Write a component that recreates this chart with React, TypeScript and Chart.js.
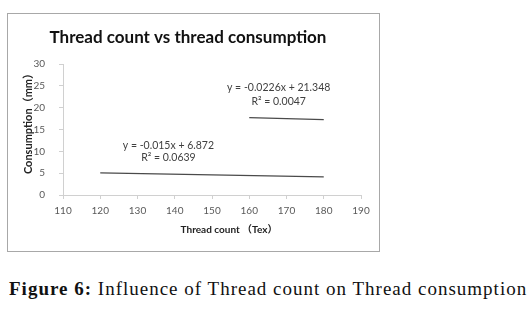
import React, { useEffect, useRef } from "react";
import { Chart, registerables } from "chart.js";

Chart.register(...registerables);

const chartTitle = "Thread count vs thread consumption";
const xAxisTitle = "Thread count （Tex）";
const yAxisTitle = "Consumption（mm）";
const figureLabel = "Figure 6:";
const figureText = " Influence of Thread count on Thread consumption";

const xMin = 110;
const xMax = 190;
const xStep = 10;
const yMin = 0;
const yMax = 30;
const yStep = 5;

// trend line 1: y = -0.015x + 6.872, over 120..180
const lowTrendX = [120, 180];
const lowTrendY = [5.072, 4.172];
// trend line 2: y = -0.0226x + 21.348, over 160..180
const highTrendX = [160, 180];
const highTrendY = [17.732, 17.28];

const lowLabelLines = ["y = -0.015x + 6.872", "R² = 0.0639"];
const lowLabelX = 138.3;
const lowLabelY = [11.4, 8.5];
const highLabelLines = ["y = -0.0226x + 21.348", "R² = 0.0047"];
const highLabelX = 167.9;
const highLabelY = [24.5, 21.5];

const SANS = "Lato, 'Noto Sans CJK SC', sans-serif";

function toPoints(xs: number[], ys: number[]) {
  return xs.map((x, i) => ({ x, y: ys[i] }));
}

const overlayPlugin = {
  id: "overlayText",
  afterDraw(chart: any) {
    const ctx = chart.ctx;
    const xs = chart.scales.x;
    const ys = chart.scales.y;
    ctx.save();
    ctx.textAlign = "center";
    ctx.textBaseline = "middle";
    // title
    ctx.fillStyle = "#111";
    ctx.font = `bold 17px ${SANS}`;
    ctx.fillText(chartTitle, 180, 24);
    // axis titles
    ctx.fillStyle = "#222";
    ctx.font = `bold 10px ${SANS}`;
    ctx.fillText(xAxisTitle, 221, 216);
    ctx.save();
    ctx.translate(20, 107);
    ctx.rotate(-Math.PI / 2);
    ctx.font = `bold 11px ${SANS}`;
    ctx.fillText(yAxisTitle, 0, 0);
    ctx.restore();
    // regression labels
    ctx.font = `10.5px ${SANS}`;
    ctx.fillStyle = "#404040";
    lowLabelLines.forEach((t, i) => {
      ctx.fillText(t, xs.getPixelForValue(lowLabelX), ys.getPixelForValue(lowLabelY[i]));
    });
    highLabelLines.forEach((t, i) => {
      ctx.fillText(t, xs.getPixelForValue(highLabelX), ys.getPixelForValue(highLabelY[i]));
    });
    ctx.restore();
  },
};

function ChartBox() {
  const ref = useRef<HTMLCanvasElement | null>(null);
  useEffect(() => {
    if (!ref.current) return;
    const chart = new Chart(ref.current, {
      type: "scatter",
      data: {
        datasets: [
          {
            data: toPoints(lowTrendX, lowTrendY),
            showLine: true,
            borderColor: "#4a4a4a",
            borderWidth: 1.2,
            pointRadius: 0,
          },
          {
            data: toPoints(highTrendX, highTrendY),
            showLine: true,
            borderColor: "#4a4a4a",
            borderWidth: 1.2,
            pointRadius: 0,
          },
        ],
      },
      options: {
        animation: false,
        responsive: false,
        maintainAspectRatio: false,
        layout: { padding: { top: 50, right: 18, bottom: 0, left: 0 } },
        plugins: {
          legend: { display: false },
          title: { display: false },
          tooltip: { enabled: false },
        },
        scales: {
          x: {
            type: "linear",
            min: xMin,
            max: xMax,
            afterFit: (s: any) => {
              s.height = 56;
            },
            ticks: {
              stepSize: xStep,
              color: "#595959",
              font: { family: SANS, size: 10 },
              padding: 6,
              maxRotation: 0,
            },
            grid: {
              drawOnChartArea: false,
              drawTicks: true,
              tickLength: 4,
              color: "#d0d0d0",
            },
            border: { display: true, color: "#d0d0d0" },
          },
          y: {
            type: "linear",
            min: yMin,
            max: yMax,
            afterFit: (s: any) => {
              s.width = 55;
            },
            ticks: {
              stepSize: yStep,
              color: "#595959",
              font: { family: SANS, size: 10 },
              padding: 14,
            },
            grid: {
              drawOnChartArea: false,
              drawTicks: true,
              tickLength: 4,
              color: "#d0d0d0",
            },
            border: { display: true, color: "#d0d0d0" },
          },
        },
      },
      plugins: [overlayPlugin],
    } as any);
    return () => chart.destroy();
  }, []);
  return (
    <canvas
      ref={ref}
      width={371}
      height={237}
      style={{ display: "block", width: 371, height: 237 }}
    />
  );
}

export default function App() {
  return (
    <div style={{ position: "absolute", left: 0, top: 0, width: 532, height: 309, background: "#fff" }}>
      <div
        style={{
          position: "absolute",
          left: 7,
          top: 13,
          width: 371,
          height: 237,
          border: "1px solid #a8a8a8",
        }}
      >
        <ChartBox />
      </div>
      <div
        style={{
          position: "absolute",
          left: 9,
          top: 278,
          fontFamily: "'Liberation Serif', serif",
          fontSize: 19,
          letterSpacing: 1,
          color: "#111",
          whiteSpace: "nowrap",
        }}
      >
        <b>{figureLabel}</b>
        {figureText}
      </div>
    </div>
  );
}
